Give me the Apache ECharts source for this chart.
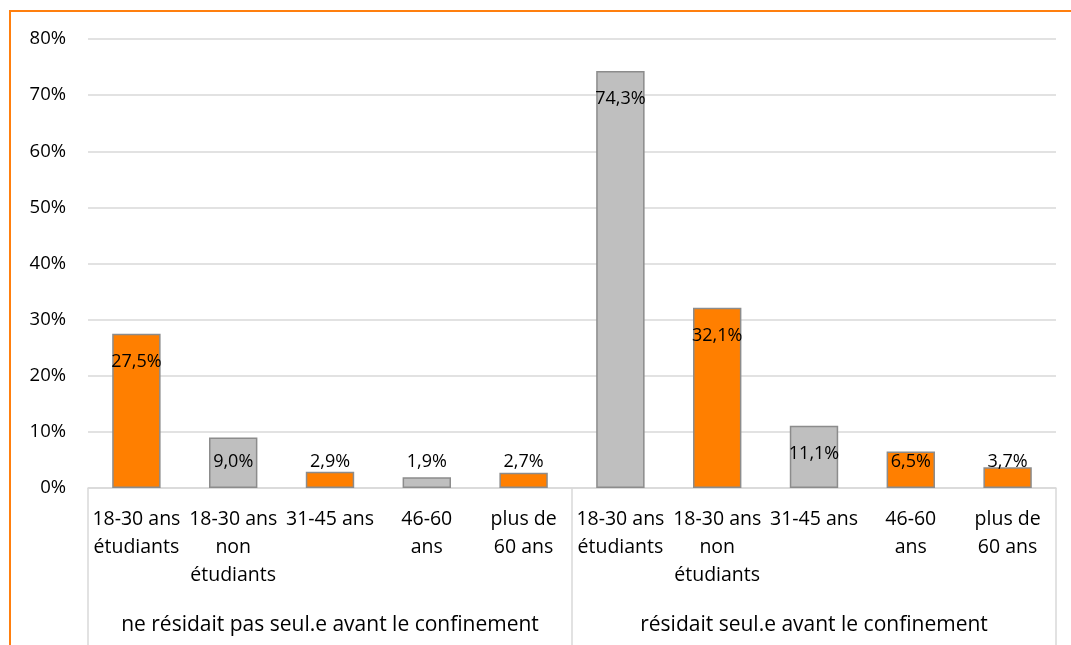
<!DOCTYPE html>
<html><head><meta charset="utf-8">
<script src="https://cdn.jsdelivr.net/npm/echarts@6/dist/echarts.min.js"></script>
<style>
html,body{margin:0;padding:0;background:#fff;overflow:hidden}
#frame{position:absolute;left:9px;top:10px;width:1100px;height:700px;border-top:2px solid #FF7F0E;border-left:2px solid #FF7F0E;box-sizing:border-box}
#c{position:absolute;left:0;top:0;width:1071px;height:645px}
</style></head>
<body><div id="frame"></div><div id="c"></div>
<script>
const categories = ["18-30 ans\nétudiants","18-30 ans\nnon\nétudiants","31-45 ans","46-60\nans","plus de\n60 ans",
                    "18-30 ans\nétudiants","18-30 ans\nnon\nétudiants","31-45 ans","46-60\nans","plus de\n60 ans"];
const groups = ["ne résidait pas seul.e avant le confinement","résidait seul.e avant le confinement"];
const values = [27.5, 9.0, 2.9, 1.9, 2.7, 74.3, 32.1, 11.1, 6.5, 3.7];
const yTicks = [0,10,20,30,40,50,60,70,80];

const ORANGE = '#FF7F00', GREY = '#BFBFBF';
const barColors = [ORANGE, GREY, ORANGE, GREY, ORANGE, GREY, ORANGE, GREY, ORANGE, ORANGE];
const FONT = '"Open Sans", sans-serif';

const data = values.map((v,i)=>{
  const small = v < 10;
  return {
    value: v,
    itemStyle: {color: barColors[i]},
    label: small ? {position:'insideBottom', distance:16} : {position:'insideTop', distance:18}
  };
});

const chart = echarts.init(document.getElementById('c'));
chart.setOption({
  animation:false,
  grid:{left:88, right:15, top:39, bottom:157},
  xAxis:[{
    type:'category', data:categories, position:'bottom',
    axisLine:{show:true, lineStyle:{color:'#d9d9d9', width:1.5}},
    axisTick:{show:false},
    axisLabel:{interval:0, color:'#000', fontFamily:FONT, fontSize:19.5, lineHeight:28, margin:17}
  },{
    type:'category', data:groups, position:'bottom', offset:0,
    axisLine:{show:false},
    axisTick:{show:true, length:160, lineStyle:{color:'#d9d9d9', width:1.5}},
    axisLabel:{interval:0, color:'#000', fontFamily:FONT, fontSize:21, lineHeight:28, margin:123}
  }],
  yAxis:{
    type:'value', min:0, max:80, interval:10,
    axisLine:{show:false}, axisTick:{show:false},
    splitLine:{lineStyle:{color:'#d9d9d9', width:1.5}},
    axisLabel:{formatter:v=>v+'%', color:'#000', fontFamily:FONT, fontSize:18.5, margin:22}
  },
  series:[{
    type:'bar', xAxisIndex:0, data:data, barWidth:'50%',
    itemStyle:{borderColor:'#8c8c8c', borderWidth:1.5},
    label:{show:true, color:'#000', fontFamily:FONT, fontSize:18, lineHeight:20,
      formatter:p=>p.value.toFixed(1).replace('.',',')+'%'}
  }]
});
</script></body></html>
